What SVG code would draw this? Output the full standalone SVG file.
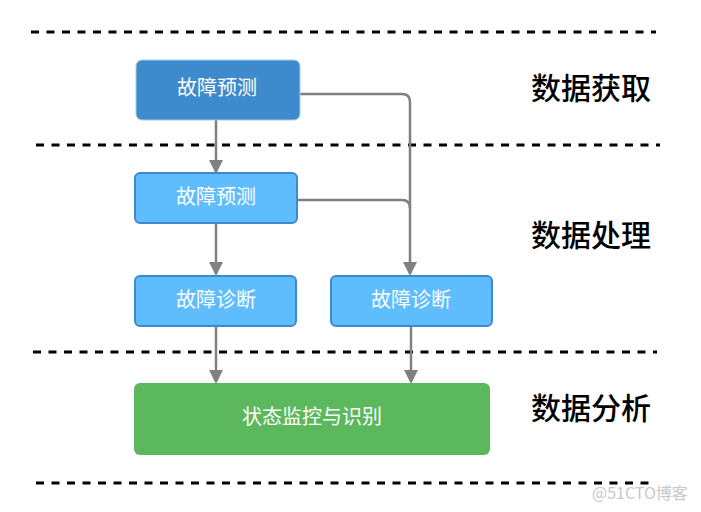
<svg xmlns="http://www.w3.org/2000/svg" width="701" height="512" viewBox="0 0 701 512">
<style>
.dash{stroke:#000;stroke-width:3;stroke-dasharray:8 7.5;fill:none}
.box text{font-family:"Noto Sans CJK SC","Liberation Sans",sans-serif;font-size:20px;fill:#fff;text-anchor:middle;dominant-baseline:central}
.light{fill:#5fbdfd;stroke:#3d8bcd;stroke-width:2}
.lbl{font-family:"Noto Sans CJK SC","Liberation Sans",sans-serif;font-size:30px;fill:#000;font-weight:500}
.conn path{fill:none;stroke:#808080;stroke-width:2.5}
</style>
<defs>
<marker id="arr" markerWidth="14" markerHeight="14" refX="12" refY="7" orient="auto" markerUnits="userSpaceOnUse">
<path d="M0,0 L14,7 L0,14 Z" fill="#808080"/>
</marker>
</defs>
<rect width="701" height="512" fill="#fff"/>
<g id="dividers">
<line class="dash" x1="31" y1="32" x2="656" y2="32"/>
<line class="dash" x1="36" y1="145" x2="660" y2="145"/>
<line class="dash" x1="33" y1="352" x2="657" y2="352"/>
<line class="dash" x1="36" y1="483" x2="653" y2="483"/>
</g>
<g class="conn" id="connectors">
<path d="M216,120 V172" marker-end="url(#arr)"/>
<path d="M300,94 H402 Q410,94 410,102 V274" marker-end="url(#arr)"/>
<path d="M297,200 H402 Q410,200 410,208"/>
<path d="M216,223 V274" marker-end="url(#arr)"/>
<path d="M216,326 V382" marker-end="url(#arr)"/>
<path d="M411,326 V382" marker-end="url(#arr)"/>
</g>
<g id="n1" class="box">
<rect x="136" y="60" width="164" height="60" rx="6" fill="#3d8bcd" stroke="#a9cbe8" stroke-width="1"/>
<text x="217" y="86">故障预测</text>
</g>
<g id="n2" class="box">
<rect class="light" x="135" y="173" width="162" height="50" rx="5"/>
<text x="216" y="195">故障预测</text>
</g>
<g id="n3" class="box">
<rect class="light" x="135" y="276" width="161" height="50" rx="5"/>
<text x="216" y="298">故障诊断</text>
</g>
<g id="n4" class="box">
<rect class="light" x="331" y="276" width="161" height="50" rx="5"/>
<text x="411" y="298">故障诊断</text>
</g>
<g id="n5" class="box">
<rect x="134" y="383" width="356" height="72" rx="6" fill="#5cb85c"/>
<text x="312" y="415">状态监控与识别</text>
</g>
<g id="labels">
<text class="lbl" x="531" y="99">数据获取</text>
<text class="lbl" x="531" y="246">数据处理</text>
<text class="lbl" x="531" y="419">数据分析</text>
</g>
<text x="592" y="499" font-family="Noto Sans CJK SC,Liberation Sans,sans-serif" font-size="16" fill="#c8c8c8">@51CTO博客</text>
</svg>
